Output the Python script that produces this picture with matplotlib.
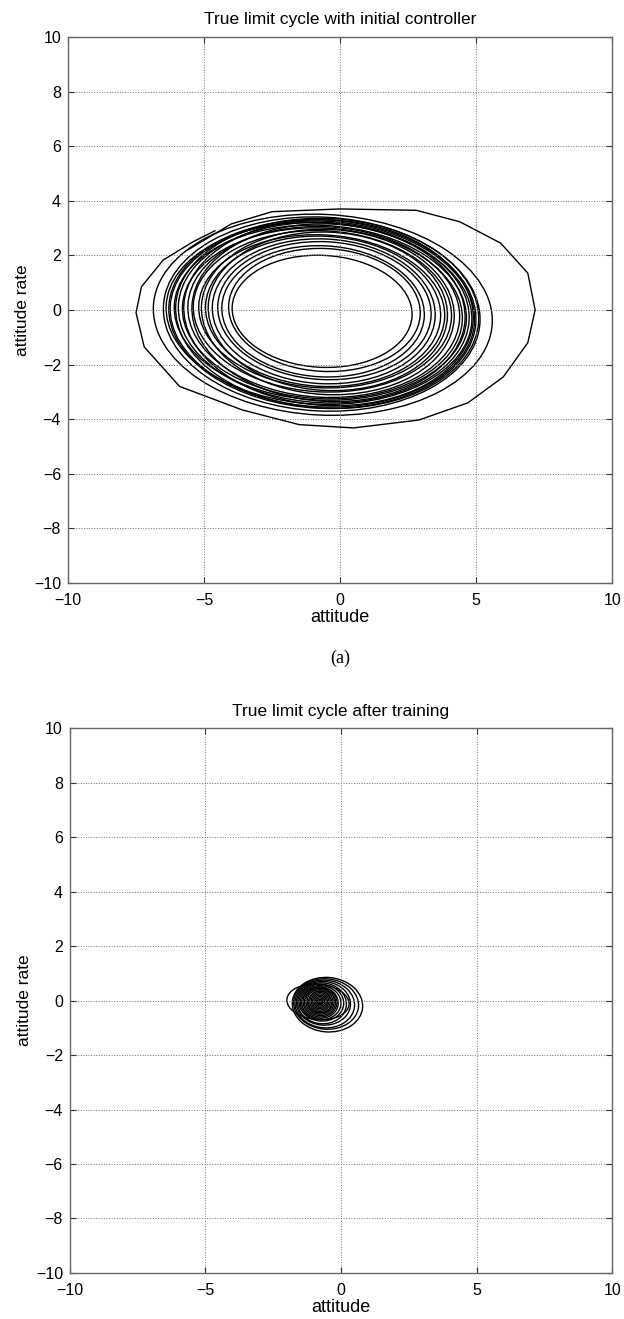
import numpy as np
import matplotlib
matplotlib.use('Agg')
import matplotlib.pyplot as plt
from matplotlib.patches import Ellipse

plt.rcParams['font.family'] = ['Liberation Sans', 'DejaVu Sans']

# (a) initial controller: extents of each loop
top_left = [-3.97, -4.1, -4.35, -4.5, -4.7, -4.95, -4.85, -5.2, -5.1, -5.4, -5.6, -5.45, -5.8, -5.95, -5.75, -6.1, -6.25, -6.05, -6.4, -6.5, -6.3, -6.87]
top_right = [2.65, 2.95, 3.1, 3.35, 3.5, 3.7, 3.95, 3.85, 4.2, 4.1, 4.4, 4.6, 4.5, 4.75, 4.9, 4.65, 4.95, 5.1, 4.85, 5.15, 5.0, 5.6]
top_up = [2.0, 2.25, 2.35, 2.5, 2.6, 2.7, 2.85, 2.75, 2.95, 2.9, 3.05, 3.15, 3.0, 3.2, 3.3, 3.1, 3.25, 3.35, 3.2, 3.4, 3.3, 3.5]
top_down = [-2.1, -2.25, -2.45, -2.55, -2.7, -2.8, -2.95, -2.85, -3.1, -3.0, -3.2, -3.35, -3.25, -3.4, -3.5, -3.3, -3.55, -3.6, -3.45, -3.7, -3.6, -3.85]

# outermost (first) swing of the trajectory
outer_x = [-5.6, -4.0, -2.5, 0.0, 2.8, 4.4, 5.9, 6.9, 7.17, 6.9, 6.0, 4.7, 2.9, 0.5, -1.5, -3.6, -5.9, -7.2, -7.5, -7.3, -6.5, -5.4, -4.6]
outer_y = [2.2, 3.15, 3.6, 3.7, 3.65, 3.23, 2.45, 1.35, 0.0, -1.2, -2.45, -3.4, -4.03, -4.32, -4.2, -3.66, -2.8, -1.35, -0.1, 0.85, 1.83, 2.5, 2.9]

# (b) after training
bot_left = [-0.82, -0.86, -0.9, -0.95, -1.0, -1.05, -1.1, -1.15, -1.2, -1.25, -1.3, -1.35, -1.4, -1.45, -1.5, -1.55, -1.6, -1.65, -1.7, -1.75, -1.8, -2.0]
bot_right = [-0.72, -0.68, -0.65, -0.6, -0.55, -0.5, -0.45, -0.4, -0.35, -0.3, -0.25, -0.2, -0.15, -0.1, 0.0, 0.1, 0.2, 0.35, 0.5, 0.65, 0.8, 0.3]
bot_up = [0.0, 0.05, 0.1, 0.15, 0.2, 0.25, 0.3, 0.35, 0.35, 0.4, 0.45, 0.45, 0.5, 0.5, 0.55, 0.6, 0.65, 0.7, 0.75, 0.8, 0.85, 0.6]
bot_down = [-0.08, -0.12, -0.15, -0.2, -0.25, -0.3, -0.35, -0.4, -0.45, -0.45, -0.5, -0.55, -0.6, -0.65, -0.7, -0.75, -0.85, -0.9, -1.0, -1.05, -1.15, -0.7]

xticks = [-10, -5, 0, 5, 10]
yticks = [-10, -8, -6, -4, -2, 0, 2, 4, 6, 8, 10]


def draw_loops(ax, xl, xr, yu, yd, tilt):
    for a, b, c, d in zip(xl, xr, yu, yd):
        ax.add_patch(Ellipse(((a + b) / 2, (c + d) / 2), b - a, c - d, angle=tilt,
                             fill=False, ec='k', lw=1.0))


def style(ax, title):
    ax.set_xlim(-10, 10)
    ax.set_ylim(-10, 10)
    ax.set_xticks(xticks)
    ax.set_yticks(yticks)
    ax.grid(True, linestyle=':', color='#777777', lw=0.7)
    ax.tick_params(direction='in', top=True, right=True, labelsize=11.5, length=4,
                   color='#333333')
    ax.tick_params(axis='x', pad=7)
    ax.tick_params(axis='y', pad=5)
    for s in ax.spines.values():
        s.set_color('#666666')
        s.set_linewidth(1.0)
    ax.set_title(title, fontsize=12.5, pad=9)
    ax.set_xlabel('attitude', fontsize=13, labelpad=1)
    ax.set_ylabel('attitude rate', fontsize=12.5, labelpad=3)


fig = plt.figure(figsize=(6.24, 13.19), dpi=100)

ax1 = fig.add_axes([0.109, 0.558, 0.872, 0.414])
draw_loops(ax1, top_left, top_right, top_up, top_down, -3)
ax1.plot(outer_x, outer_y, color='k', lw=1.0)
style(ax1, 'True limit cycle with initial controller')

fig.text(0.545, 0.501, '(a)', family='Liberation Serif', fontsize=13, ha='center', va='center')

ax2 = fig.add_axes([0.112, 0.0349, 0.869, 0.413])
draw_loops(ax2, bot_left, bot_right, bot_up, bot_down, -5)
style(ax2, 'True limit cycle after training')

fig.savefig('out.png', dpi=100)
